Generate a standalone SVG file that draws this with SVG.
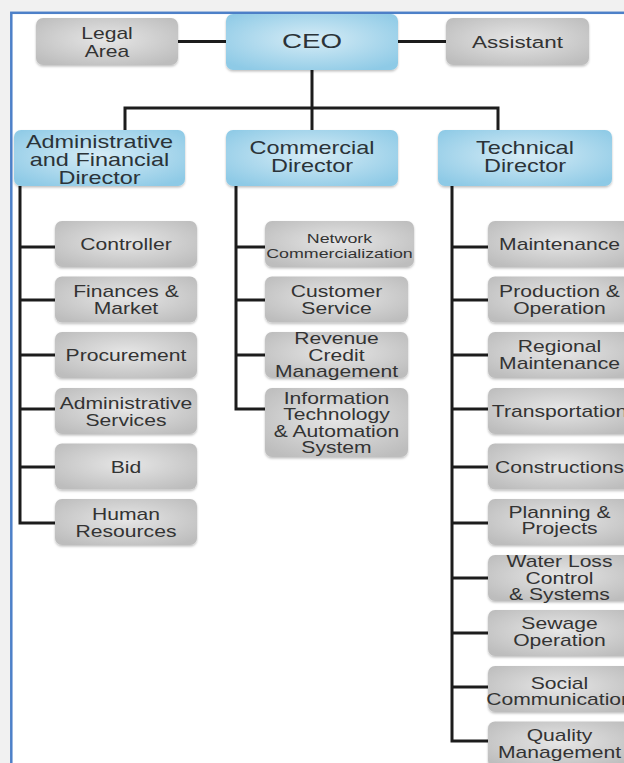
<svg xmlns="http://www.w3.org/2000/svg" width="624" height="763" viewBox="0 0 624 763">
<style>
.g{fill:url(#gray);filter:url(#sh)}
.b{fill:url(#blue);filter:url(#sh)}
.t{font-family:"Liberation Sans",Arial,sans-serif;font-size:16px;fill:#333;text-anchor:middle}
.d{font-size:17.5px;fill:#2b3338}
.c{fill:none;stroke:#1c1c1c;stroke-width:3;stroke-linejoin:miter}
</style>
<defs>
<radialGradient id="gray" cx="50%" cy="45%" r="65%">
<stop offset="0" stop-color="#e6e6e6"/>
<stop offset="1" stop-color="#bdbdbd"/>
</radialGradient>
<radialGradient id="blue" cx="50%" cy="45%" r="65%">
<stop offset="0" stop-color="#d6ecf6"/>
<stop offset="1" stop-color="#8ecae6"/>
</radialGradient>
<filter id="sh" x="-10%" y="-10%" width="120%" height="130%">
<feDropShadow dx="0" dy="1.5" stdDeviation="1.2" flood-color="#000" flood-opacity="0.25"/>
</filter>
</defs>
<rect x="0" y="0" width="624" height="763" fill="#f1f1f1"/>
<rect x="11.3" y="12.8" width="700" height="800" fill="#ffffff" stroke="#4d80c8" stroke-width="2.5"/>

<g id="connectors" class="c">
<path d="M178 41.5H226"/>
<path d="M398 41.5H446"/>
<path d="M312 70V108"/>
<path d="M125 130V108H498V130"/>
<path d="M312 108V130"/>
<path d="M20 186V523H55"/>
<path d="M20 247H55M20 300H55M20 355H55M20 409H55M20 467H55"/>
<path d="M236 186V409H265"/>
<path d="M236 247H265M236 300H265M236 355H265"/>
<path d="M452 186V741H488"/>
<path d="M452 247H488M452 300H488M452 355H488M452 409H488M452 467H488M452 523H488M452 578H488M452 633H488M452 687H488"/>
</g>

<g id="legal"><rect class="g" x="36" y="18" width="142" height="47" rx="7"/>
<text class="t" font-size="17" transform="translate(107 0) scale(1.32 1)"><tspan x="0" y="39">Legal</tspan><tspan x="0" y="57">Area</tspan></text></g>
<g id="ceo"><rect class="b" x="226" y="14" width="172" height="56" rx="7"/>
<text class="t d" style="font-size:21px" transform="translate(312 48) scale(1.32 1)">CEO</text></g>
<g id="assistant"><rect class="g" x="446" y="18" width="143" height="47" rx="7"/>
<text class="t" font-size="17" style="font-size:17px" transform="translate(517.5 48) scale(1.32 1)">Assistant</text></g>

<g id="adm-dir"><rect class="b" x="14" y="130" width="171" height="56" rx="7"/>
<text class="t d" transform="translate(99.5 0) scale(1.34 1)"><tspan x="0" y="148">Administrative</tspan><tspan x="0" y="166">and Financial</tspan><tspan x="0" y="184">Director</tspan></text></g>
<g id="com-dir"><rect class="b" x="226" y="130" width="172" height="56" rx="7"/>
<text class="t d" transform="translate(312 0) scale(1.34 1)"><tspan x="0" y="154">Commercial</tspan><tspan x="0" y="172">Director</tspan></text></g>
<g id="tec-dir"><rect class="b" x="438" y="130" width="174" height="56" rx="7"/>
<text class="t d" transform="translate(525 0) scale(1.34 1)"><tspan x="0" y="154">Technical</tspan><tspan x="0" y="172">Director</tspan></text></g>

<g id="controller"><rect class="g" x="55" y="221" width="142" height="46" rx="7"/>
<text class="t" transform="translate(126 250) scale(1.32 1)">Controller</text></g>
<g id="finances"><rect class="g" x="55" y="276.5" width="142" height="46" rx="7"/>
<text class="t" transform="translate(126 0) scale(1.32 1)"><tspan x="0" y="297">Finances &amp;</tspan><tspan x="0" y="314">Market</tspan></text></g>
<g id="procurement"><rect class="g" x="55" y="332" width="142" height="46" rx="7"/>
<text class="t" transform="translate(126 361) scale(1.32 1)">Procurement</text></g>
<g id="adm-services"><rect class="g" x="55" y="388" width="142" height="46" rx="7"/>
<text class="t" transform="translate(126 0) scale(1.32 1)"><tspan x="0" y="409">Administrative</tspan><tspan x="0" y="426">Services</tspan></text></g>
<g id="bid"><rect class="g" x="55" y="443.5" width="142" height="46" rx="7"/>
<text class="t" transform="translate(126 472.5) scale(1.32 1)">Bid</text></g>
<g id="hr"><rect class="g" x="55" y="499" width="142" height="46" rx="7"/>
<text class="t" transform="translate(126 0) scale(1.32 1)"><tspan x="0" y="520">Human</tspan><tspan x="0" y="537">Resources</tspan></text></g>

<g id="network"><rect class="g" x="265" y="221" width="149" height="46" rx="7"/>
<text class="t" style="font-size:13.5px" transform="translate(339.5 0) scale(1.32 1)"><tspan x="0" y="243">Network</tspan><tspan x="0" y="258.5">Commercialization</tspan></text></g>
<g id="customer"><rect class="g" x="265" y="276.5" width="143" height="46" rx="7"/>
<text class="t" transform="translate(336.5 0) scale(1.32 1)"><tspan x="0" y="297">Customer</tspan><tspan x="0" y="314">Service</tspan></text></g>
<g id="revenue"><rect class="g" x="265" y="332" width="143" height="46" rx="7"/>
<text class="t" transform="translate(336.5 0) scale(1.32 1)"><tspan x="0" y="344">Revenue</tspan><tspan x="0" y="361">Credit</tspan><tspan x="0" y="377.5">Management</tspan></text></g>
<g id="it"><rect class="g" x="265" y="388" width="143" height="69" rx="7"/>
<text class="t" transform="translate(336.5 0) scale(1.32 1)"><tspan x="0" y="404">Information</tspan><tspan x="0" y="420.5">Technology</tspan><tspan x="0" y="437">&amp; Automation</tspan><tspan x="0" y="453">System</tspan></text></g>

<g id="maintenance"><rect class="g" x="488" y="221" width="143" height="46" rx="7"/>
<text class="t" transform="translate(559.5 250) scale(1.32 1)">Maintenance</text></g>
<g id="production"><rect class="g" x="488" y="276.5" width="143" height="46" rx="7"/>
<text class="t" transform="translate(559.5 0) scale(1.32 1)"><tspan x="0" y="297">Production &amp;</tspan><tspan x="0" y="314">Operation</tspan></text></g>
<g id="regional"><rect class="g" x="488" y="332" width="143" height="46" rx="7"/>
<text class="t" transform="translate(559.5 0) scale(1.32 1)"><tspan x="0" y="352">Regional</tspan><tspan x="0" y="369">Maintenance</tspan></text></g>
<g id="transportation"><rect class="g" x="488" y="388" width="143" height="46" rx="7"/>
<text class="t" transform="translate(559.5 417) scale(1.32 1)">Transportation</text></g>
<g id="constructions"><rect class="g" x="488" y="443.5" width="143" height="46" rx="7"/>
<text class="t" transform="translate(559.5 472.5) scale(1.32 1)">Constructions</text></g>
<g id="planning"><rect class="g" x="488" y="499" width="143" height="46" rx="7"/>
<text class="t" transform="translate(559.5 0) scale(1.32 1)"><tspan x="0" y="518">Planning &amp;</tspan><tspan x="0" y="534">Projects</tspan></text></g>
<g id="waterloss"><rect class="g" x="488" y="555" width="143" height="46" rx="7"/>
<text class="t" transform="translate(559.5 0) scale(1.32 1)"><tspan x="0" y="567">Water Loss</tspan><tspan x="0" y="584">Control</tspan><tspan x="0" y="600.5">&amp; Systems</tspan></text></g>
<g id="sewage"><rect class="g" x="488" y="610" width="143" height="46" rx="7"/>
<text class="t" transform="translate(559.5 0) scale(1.32 1)"><tspan x="0" y="629">Sewage</tspan><tspan x="0" y="646">Operation</tspan></text></g>
<g id="social"><rect class="g" x="488" y="666" width="143" height="46" rx="7"/>
<text class="t" transform="translate(559.5 0) scale(1.32 1)"><tspan x="0" y="689.5">Social</tspan><tspan x="0" y="705.5">Communication</tspan></text></g>
<g id="quality"><rect class="g" x="488" y="721.5" width="143" height="46" rx="7"/>
<text class="t" transform="translate(559.5 0) scale(1.32 1)"><tspan x="0" y="741">Quality</tspan><tspan x="0" y="758">Management</tspan></text></g>
</svg>
